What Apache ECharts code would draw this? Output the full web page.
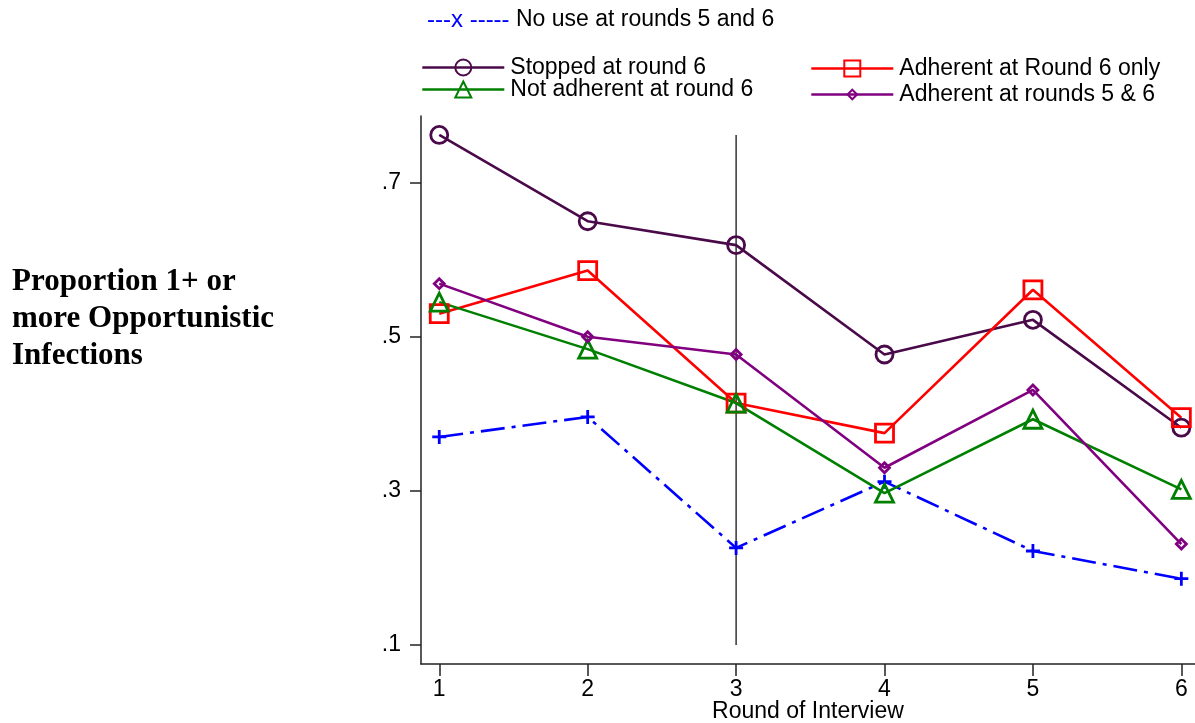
<!DOCTYPE html>
<html>
<head>
<meta charset="utf-8">
<script src="https://cdn.jsdelivr.net/npm/echarts@6/dist/echarts.min.js"></script>
<style>
html,body{margin:0;padding:0;background:#fff;}
#chart{width:1195px;height:723px;}
</style>
</head>
<body>
<div id="chart"></div>
<script>
// ---- data ----
const rounds = [1, 2, 3, 4, 5, 6];
const xTicks = [1, 2, 3, 4, 5, 6];
const yTicks = [0.1, 0.3, 0.5, 0.7];
const noUse       = [0.370, 0.396, 0.226, 0.312, 0.222, 0.186];
const stopped     = [0.762, 0.650, 0.619, 0.477, 0.522, 0.382];
const adherentR6  = [0.530, 0.586, 0.414, 0.375, 0.561, 0.395];
const notAdherent = [0.545, 0.484, 0.414, 0.297, 0.393, 0.302];
const adherent56  = [0.569, 0.500, 0.477, 0.330, 0.431, 0.231];
const refLineX = [3, 3];
const refLineY = [0.1, 0.762];

const names = {
  noUse: 'No use at rounds 5 and 6',
  stopped: 'Stopped at round 6',
  adherentR6: 'Adherent at Round 6 only',
  notAdherent: 'Not adherent at round 6',
  adherent56: 'Adherent at rounds 5 & 6'
};

const pair = (ys) => rounds.map((r, i) => [r, ys[i]]);
const plusPath = 'path://M4,0H6V4H10V6H6V10H4V6H0V4H4Z';
const FONT = 'Liberation Sans, Arial, sans-serif';
const FS = 23;

function lineSeries(name, ys, color, symbol, size, extra) {
  return Object.assign({
    name: name,
    type: 'line',
    data: pair(ys),
    symbol: symbol,
    symbolSize: size,
    showSymbol: true,
    lineStyle: { color: color, width: 2.6 },
    itemStyle: { color: 'rgba(255,255,255,0)', borderColor: color, borderWidth: 2.8 },
    emphasis: { disabled: true },
    z: 3
  }, extra || {});
}

const chart = echarts.init(document.getElementById('chart'));
const legendBase = {
  orient: 'horizontal',
  itemWidth: 82,
  itemHeight: 20,
  itemGap: 0,
  padding: 0,
  selectedMode: false,
  lineStyle: { width: 2.6 },
  textStyle: { fontFamily: FONT, fontSize: FS, color: '#000', padding: [0, 0, 0, 1] }
};

const option = {
  animation: false,
  backgroundColor: '#fff',
  title: {
    text: 'Proportion 1+ or\nmore Opportunistic\nInfections',
    left: 12, top: 263, padding: 0,
    textStyle: { fontFamily: 'Liberation Serif, Times New Roman, serif', fontWeight: 'bold', fontSize: 31, lineHeight: 37, color: '#000' }
  },
  legend: [
    Object.assign({}, legendBase, {
      left: 421, top: 8, icon: 'none', itemWidth: 1,
      data: [names.noUse],
      formatter: (n) => '{d|---x -----} ' + n,
      textStyle: { fontFamily: FONT, fontSize: FS, color: '#000', rich: { d: { color: '#0000ff', fontFamily: FONT, fontSize: 24 } } }
    }),
    Object.assign({}, legendBase, { left: 421, top: 56, data: [names.stopped] }),
    Object.assign({}, legendBase, { left: 421, top: 78, data: [names.notAdherent] }),
    Object.assign({}, legendBase, { left: 810, top: 57, data: [names.adherentR6] }),
    Object.assign({}, legendBase, { left: 810, top: 83, itemHeight: 12, data: [names.adherent56] })
  ],
  grid: { left: 421, right: 0, top: 116, bottom: 59, containLabel: false, outerBoundsMode: 'none' },
  xAxis: {
    type: 'value', min: 0.877, max: 6.092,
    name: 'Round of Interview', nameLocation: 'middle', nameGap: 36, nameMoveOverlap: false,
    nameTextStyle: { fontFamily: FONT, fontSize: FS, color: '#000', verticalAlign: 'top' },
    axisLine: { show: true, lineStyle: { color: '#222', width: 1.5 } },
    axisTick: { show: true, length: 12, customValues: xTicks, lineStyle: { color: '#222', width: 1.5 } },
    axisLabel: { customValues: xTicks, margin: 14, fontFamily: FONT, fontSize: FS, color: '#000' },
    splitLine: { show: false }
  },
  yAxis: {
    type: 'value', min: 0.0753, max: 0.7866,
    axisLine: { show: true, lineStyle: { color: '#222', width: 1.5 } },
    axisTick: { show: true, length: 11, customValues: yTicks, lineStyle: { color: '#222', width: 1.5 } },
    axisLabel: { customValues: yTicks, margin: 20, fontFamily: FONT, fontSize: FS, color: '#000',
      formatter: (v) => String(Math.round(v * 10) / 10).replace(/^0/, '') },
    splitLine: { show: false }
  },
  series: [
    {
      name: 'ref', type: 'line', data: refLineX.map((x, i) => [x, refLineY[i]]),
      symbol: 'none', lineStyle: { color: '#000', width: 1.2 }, z: 2, silent: true
    },
    lineSeries(names.noUse, noUse, '#0000ff', plusPath, 14, {
      lineStyle: { color: '#0000ff', width: 2.6, type: [24, 7, 4, 7] },
      itemStyle: { color: '#0000ff' }
    }),
    lineSeries(names.stopped, stopped, '#4a0a4a', 'circle', 17),
    lineSeries(names.adherentR6, adherentR6, '#ff0000', 'rect', 18),
    lineSeries(names.notAdherent, notAdherent, '#008000', 'triangle', 18),
    lineSeries(names.adherent56, adherent56, '#800080', 'diamond', 10)
  ]
};
chart.setOption(option);
</script>
</body>
</html>
